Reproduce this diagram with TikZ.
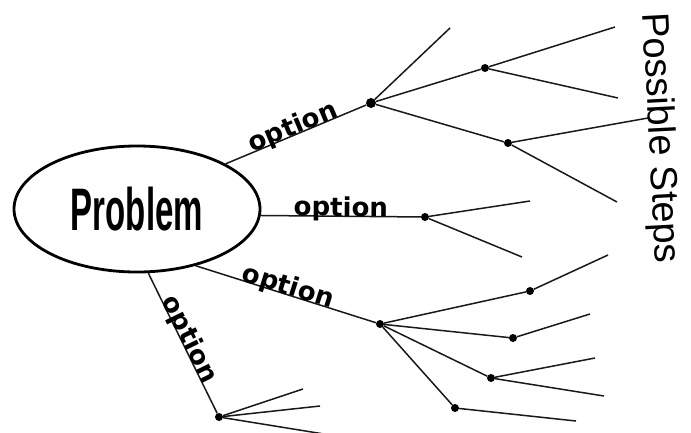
\documentclass[tikz,border=0pt]{standalone}
\usepackage{fontspec}
\usepackage{graphicx}
\setmainfont{Liberation Sans}
\newfontfamily\optfont{DejaVu Sans}
\usetikzlibrary{shapes.geometric}

\tikzstyle{problem} = [ellipse, draw=black, line width=2.8pt, minimum width=246pt, minimum height=126pt, inner sep=0pt, font=\bfseries\fontsize{60}{60}\selectfont]
\tikzstyle{dot} = [circle, fill=black, inner sep=0pt, minimum size=8pt]
\tikzstyle{branch} = [line width=1.5pt, draw=black!90]
\tikzstyle{option} = [midway, sloped, anchor=base, inner sep=1pt, font=\optfont\bfseries\fontsize{26}{26}\selectfont]
\tikzstyle{steps} = [rotate=-87, font=\fontsize{38}{38}\selectfont]

\begin{document}
\begin{tikzpicture}[x=1pt, y=-1pt]
		\useasboundingbox (0,0) rectangle (691,432);
		% Nodes
		\node (problem) [problem] at (137,209) {\scalebox{0.55}[1]{Problem}};
		\node (a) [dot, minimum size=10pt] at (371,103) {};
		\node (b) [dot] at (485,68) {};
		\node (c) [dot] at (508,143) {};
		\node (d) [dot] at (425,217) {};
		\node (e) [dot] at (380,324) {};
		\node (f) [dot] at (530,291) {};
		\node (g) [dot] at (513,338) {};
		\node (h) [dot] at (491,378) {};
		\node (i) [dot] at (455,408) {};
		\node (j) [dot] at (219,417) {};
		\node (steps) [steps] at (659,138) {Possible Steps};
		% Loose ends
		\coordinate (a1) at (450,28);
		\coordinate (b1) at (615,27);
		\coordinate (b2) at (618,98);
		\coordinate (c1) at (648,118);
		\coordinate (c2) at (617,202);
		\coordinate (d1) at (530,201);
		\coordinate (d2) at (522,257);
		\coordinate (f1) at (608,255);
		\coordinate (g1) at (590,314);
		\coordinate (h1) at (595,358);
		\coordinate (h2) at (604,396);
		\coordinate (i1) at (576,421);
		\coordinate (j1) at (303,389);
		\coordinate (j2) at (320,406);
		\coordinate (j3) at (324,434);
		% Options
		\draw [branch] (problem.27) -- node[option] {option} (a);
		\draw [branch] (problem.-3) -- node[option] {option} (d);
		\draw [branch] (problem.-44) -- node[option] {option} (e);
		\draw [branch] (problem.-80) -- node[option] {option} (j);
		% Steps
		\draw [branch] (a) -- (a1);
		\draw [branch] (a) -- (b);
		\draw [branch] (a) -- (c);
		\draw [branch] (b) -- (b1);
		\draw [branch] (b) -- (b2);
		\draw [branch] (c) -- (c1);
		\draw [branch] (c) -- (c2);
		\draw [branch] (d) -- (d1);
		\draw [branch] (d) -- (d2);
		\draw [branch] (e) -- (f);
		\draw [branch] (e) -- (g);
		\draw [branch] (e) -- (h);
		\draw [branch] (e) -- (i);
		\draw [branch] (f) -- (f1);
		\draw [branch] (g) -- (g1);
		\draw [branch] (h) -- (h1);
		\draw [branch] (h) -- (h2);
		\draw [branch] (i) -- (i1);
		\draw [branch] (j) -- (j1);
		\draw [branch] (j) -- (j2);
		\draw [branch] (j) -- (j3);
	\end{tikzpicture}
\end{document}
